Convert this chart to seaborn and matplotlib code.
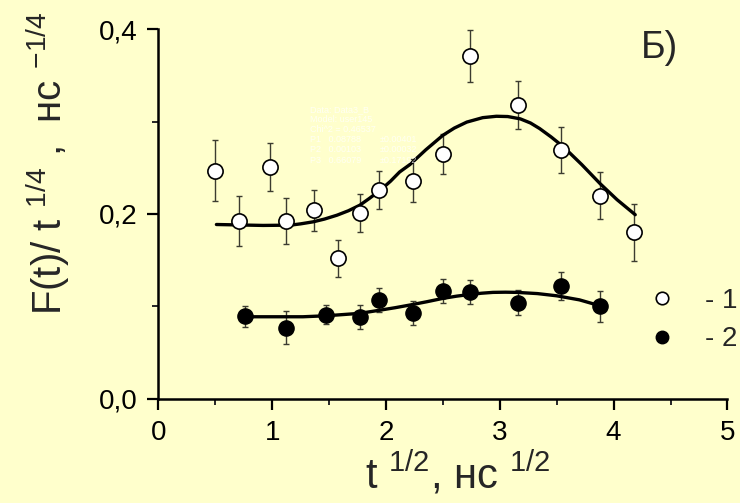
import numpy as np
import pandas as pd
import matplotlib
matplotlib.use("Agg")
import matplotlib.pyplot as plt
from matplotlib.lines import Line2D
import seaborn as sns

# ---- data ----
x1 = [0.50, 0.71, 0.98, 1.12, 1.37, 1.58, 1.77, 1.94, 2.24, 2.50, 2.74, 3.16, 3.54, 3.88, 4.18]
y1 = [0.247, 0.192, 0.251, 0.192, 0.204, 0.152, 0.201, 0.226, 0.236, 0.265, 0.371, 0.318, 0.269, 0.220, 0.180]
e1 = [0.033, 0.027, 0.026, 0.025, 0.022, 0.020, 0.021, 0.021, 0.023, 0.022, 0.028, 0.026, 0.025, 0.025, 0.031]

x2 = [0.76, 1.12, 1.47, 1.77, 1.94, 2.24, 2.50, 2.74, 3.16, 3.54, 3.88]
y2 = [0.089, 0.077, 0.091, 0.088, 0.107, 0.093, 0.117, 0.115, 0.104, 0.122, 0.100]
e2 = [0.011, 0.018, 0.010, 0.013, 0.013, 0.013, 0.013, 0.013, 0.0135, 0.015, 0.0165]

# fitted curves
fx1 = [0.51, 0.92, 1.16, 1.25, 1.36, 1.46, 1.57, 1.67, 1.77, 1.85, 1.95, 2.04, 2.12, 2.21, 2.35,
       2.50, 2.60, 2.71, 2.85, 2.97, 3.07, 3.18, 3.27, 3.35, 3.45, 3.56, 3.72, 3.88, 4.03, 4.19]
fy1 = [0.1886, 0.1876, 0.1879, 0.1893, 0.1915, 0.1945, 0.1987, 0.2035, 0.2095, 0.2165, 0.2257,
       0.2355, 0.2455, 0.2535, 0.2695, 0.2852, 0.2930, 0.2995, 0.3043, 0.3058, 0.3055, 0.3030,
       0.2985, 0.2925, 0.2835, 0.2726, 0.2535, 0.2330, 0.2155, 0.1992]
fx2 = [0.75, 1.27, 1.48, 1.77, 1.95, 2.08, 2.21, 2.36, 2.50, 2.62, 2.74, 2.84, 2.94, 3.05,
       3.15, 3.33, 3.50, 3.70, 3.88]
fy2 = [0.0887, 0.0887, 0.0898, 0.0924, 0.0959, 0.0985, 0.1014, 0.1050, 0.1086, 0.1110, 0.1129,
       0.1142, 0.1151, 0.1153, 0.1151, 0.1138, 0.1114, 0.1070, 0.1006]

xticks = [0, 1, 2, 3, 4, 5]
xticklabels = ["0", "1", "2", "3", "4", "5"]
yticks = [0.0, 0.2, 0.4]
yticklabels = ["0,0", "0,2", "0,4"]
legend_labels = ["- 1", "- 2"]
fit_info = ["Data: Data3_B", "Model: user145", "Chi^2 = 0.46537",
            "P1   0.08788", "P2   0.00103", "P3   0.66079"]
fit_err = ["\u00b10.00401", "\u00b10.00032", "\u00b10.17192"]

BG = "#FFFFCC"
sns.set_style("ticks")
plt.rcParams["font.family"] = ["Liberation Sans", "DejaVu Sans"]
plt.rcParams["mathtext.fontset"] = "custom"
plt.rcParams["mathtext.rm"] = "Liberation Sans"
plt.rcParams["mathtext.it"] = "Liberation Sans"
plt.rcParams["mathtext.bf"] = "Liberation Sans"

fig = plt.figure(figsize=(7.4, 5.03), dpi=100, facecolor=BG)
ax = fig.add_axes([0.214, 0.2074, 0.769, 0.7344])
ax.set_facecolor(BG)

d1 = pd.DataFrame({"x": x1, "y": y1})
d2 = pd.DataFrame({"x": x2, "y": y2})
f1 = pd.DataFrame({"x": fx1, "y": fy1})
f2 = pd.DataFrame({"x": fx2, "y": fy2})

ax.errorbar(x1, y1, yerr=e1, fmt="none", ecolor="#3c3c30", elinewidth=1.0, capsize=2.0, capthick=1.0, zorder=2)
ax.errorbar(x2, y2, yerr=e2, fmt="none", ecolor="#3c3c30", elinewidth=1.0, capsize=2.0, capthick=1.0, zorder=2)

sns.lineplot(data=f1, x="x", y="y", ax=ax, color="black", linewidth=2.4, sort=False, zorder=3)
sns.lineplot(data=f2, x="x", y="y", ax=ax, color="black", linewidth=2.4, sort=False, zorder=3)

sns.scatterplot(data=d1, x="x", y="y", ax=ax, s=120, marker="o", facecolor="white",
                edgecolor="black", linewidth=1.2, zorder=4)
sns.scatterplot(data=d2, x="x", y="y", ax=ax, s=120, marker="o", color="black",
                edgecolor="black", linewidth=1.0, zorder=4)

ax.set_xlim(0, 5)
ax.set_ylim(0, 0.4)
ax.set_xticks(xticks)
ax.set_xticklabels(xticklabels)
ax.set_yticks(yticks)
ax.set_yticklabels(yticklabels)
ax.set_xticks([0.5, 1.5, 2.5, 3.5, 4.5], minor=True)
ax.set_yticks([0.1, 0.3], minor=True)
ax.tick_params(axis="both", which="major", length=8, width=1.6, labelsize=20, pad=7, colors="black")
ax.tick_params(axis="both", which="minor", length=4, width=1.4)
ax.set_xlabel("")
ax.set_ylabel("")
for s in ["top", "right"]:
    ax.spines[s].set_visible(False)
for s in ["left", "bottom"]:
    ax.spines[s].set_linewidth(1.8)
    ax.spines[s].set_color("black")

# axis labels
fig.text(458 / 740, 1 - 473 / 503, "t $^{1/2}$, нс $^{1/2}$", fontsize=30,
         ha="center", va="center")
fig.text(48 / 740, 1 - 163 / 503, "F(t)/ t $^{1/4}$ ,  нс $^{-1/4}$", fontsize=29,
         ha="center", va="center", rotation=90)

# panel tag
ax.text(641 / 740, 1 - 48 / 503, "Б)", transform=fig.transFigure, fontsize=27,
        ha="left", va="center")

# faint fit info
for i, line in enumerate(fit_info):
    fig.text(310 / 740, 1 - (110 + 10 * i) / 503, line, fontsize=6.5, color="white",
             alpha=0.75, ha="left", va="center")
for i, line in enumerate(fit_err):
    fig.text(380 / 740, 1 - (140 + 10 * i) / 503, line, fontsize=6.5, color="white",
             alpha=0.75, ha="left", va="center")

handles = [
    Line2D([], [], linestyle="none", marker="o", markersize=9, markerfacecolor="white",
           markeredgecolor="black", markeredgewidth=1.2),
    Line2D([], [], linestyle="none", marker="o", markersize=9, markerfacecolor="black",
           markeredgecolor="black"),
]
fig.legend(handles, legend_labels, loc="center left", bbox_to_anchor=(651 / 740, 1 - 320 / 503),
           frameon=False, fontsize=20, handlelength=0.8, handletextpad=1.15, labelspacing=0.45,
           borderpad=0, borderaxespad=0)

fig.savefig("out.png", dpi=100, facecolor=BG)
